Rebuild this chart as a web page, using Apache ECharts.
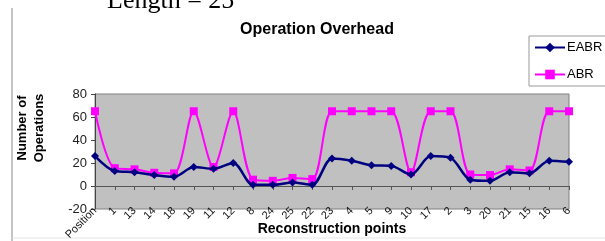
<!DOCTYPE html>
<html>
<head>
<meta charset="utf-8">
<script src="https://cdn.jsdelivr.net/npm/echarts@6/dist/echarts.min.js"></script>
<style>
html,body{margin:0;padding:0;background:#fff;}
#c{width:605px;height:241px;}
</style>
</head>
<body>
<div id="c"></div>
<script>
var categories = ['Position','1','13','14','18','19','11','12','8','24','25','22','23','4','5','9','10','17','2','3','20','21','15','16','6'];
var eabr = [26, 13, 12, 9.5, 8, 16.5, 15, 20, 1, 1, 3, 1, 24, 22, 18, 17.5, 10, 26, 24.5, 5.5, 4.5, 12, 11, 22, 21];
var abr  = [65, 15.5, 14.5, 11.5, 11, 65, 16.5, 65, 5.5, 4.5, 7, 6, 65, 65, 65, 65, 12, 65, 65, 10, 9.5, 14.5, 13.5, 65, 65];
var yTicks = {min: -20, max: 80, interval: 20};

var chart = echarts.init(document.getElementById('c'), null, {renderer: 'canvas'});
chart.setOption({
  animation: false,
  backgroundColor: '#fff',
  title: {
    text: 'Operation Overhead',
    left: 312, top: 17, textAlign: 'center',
    textStyle: {fontFamily: 'Liberation Sans, Arial', fontSize: 16, fontWeight: 'bold', color: '#000'}
  },
  graphic: [
    {type: 'text', left: 107, top: -12, style: {text: 'Length = 25', font: '26px "Liberation Serif", "Times New Roman", serif', fill: '#000'}},
    {type: 'line', shape: {x1: 12, y1: 8, x2: 12, y2: 241}, style: {stroke: '#c4c4c4', lineWidth: 2}},
    {type: 'line', shape: {x1: 12, y1: 238, x2: 605, y2: 238}, style: {stroke: '#e4e4e4', lineWidth: 1}},
    {type: 'text', x: 31, y: 128, rotation: Math.PI / 2,
     style: {text: 'Number of\nOperations', font: 'bold 13px "Liberation Sans", Arial', fill: '#000', align: 'center', verticalAlign: 'middle', lineHeight: 17}},
    {type: 'text', x: 332, y: 229,
     style: {text: 'Reconstruction points', font: 'bold 14px "Liberation Sans", Arial', fill: '#000', align: 'center', verticalAlign: 'middle'}}
  ],
  legend: {
    orient: 'vertical',
    left: 529, top: 36,
    padding: [5, 40, 5, 5],
    itemGap: 14, itemWidth: 30, itemHeight: 12,
    borderColor: '#999', borderWidth: 1,
    textStyle: {fontFamily: 'Liberation Sans, Arial', fontSize: 13, color: '#000', padding: [0,0,0,-3]},
    data: ['EABR', 'ABR']
  },
  grid: {left: 95, right: 36, top: 94, bottom: 32, outerBoundsMode: 'none', containLabel: false,
         show: true, backgroundColor: '#c0c0c0', borderColor: '#808080', borderWidth: 1},
  xAxis: [
    {
      type: 'category', data: categories, boundaryGap: false, position: 'bottom',
      axisLine: {show: false, onZero: false}, axisTick: {show: false}, splitLine: {show: false},
      axisLabel: {rotate: 45, margin: 0, interval: 0, fontFamily: 'Liberation Sans, Arial', fontSize: 11, color: '#111'}
    },
    {
      type: 'category', data: categories, boundaryGap: false, position: 'top',
      axisLine: {show: true, onZero: true, lineStyle: {color: '#555', width: 1}},
      axisTick: {show: true, inside: true, length: 4, interval: 0, lineStyle: {color: '#555'}},
      axisLabel: {show: false}, splitLine: {show: false}
    }
  ],
  yAxis: {
    type: 'value', min: yTicks.min, max: yTicks.max, interval: yTicks.interval,
    axisLine: {show: true, lineStyle: {color: '#444', width: 1}},
    axisTick: {show: true, length: 4, lineStyle: {color: '#444'}},
    splitLine: {show: false},
    axisLabel: {margin: 8, fontFamily: 'Liberation Sans, Arial', fontSize: 13, color: '#222'}
  },
  series: [
    {
      name: 'EABR', type: 'line', data: eabr, smooth: 0.3, xAxisIndex: 0,
      symbol: 'diamond', symbolSize: 8,
      itemStyle: {color: '#000080'}, lineStyle: {color: '#000080', width: 2.5}, z: 3
    },
    {
      name: 'ABR', type: 'line', data: abr, smooth: 0.3, xAxisIndex: 0,
      symbol: 'rect', symbolSize: 8,
      itemStyle: {color: '#ff00ff'}, lineStyle: {color: '#ff00ff', width: 2}, z: 2
    }
  ]
});
</script>
</body>
</html>
